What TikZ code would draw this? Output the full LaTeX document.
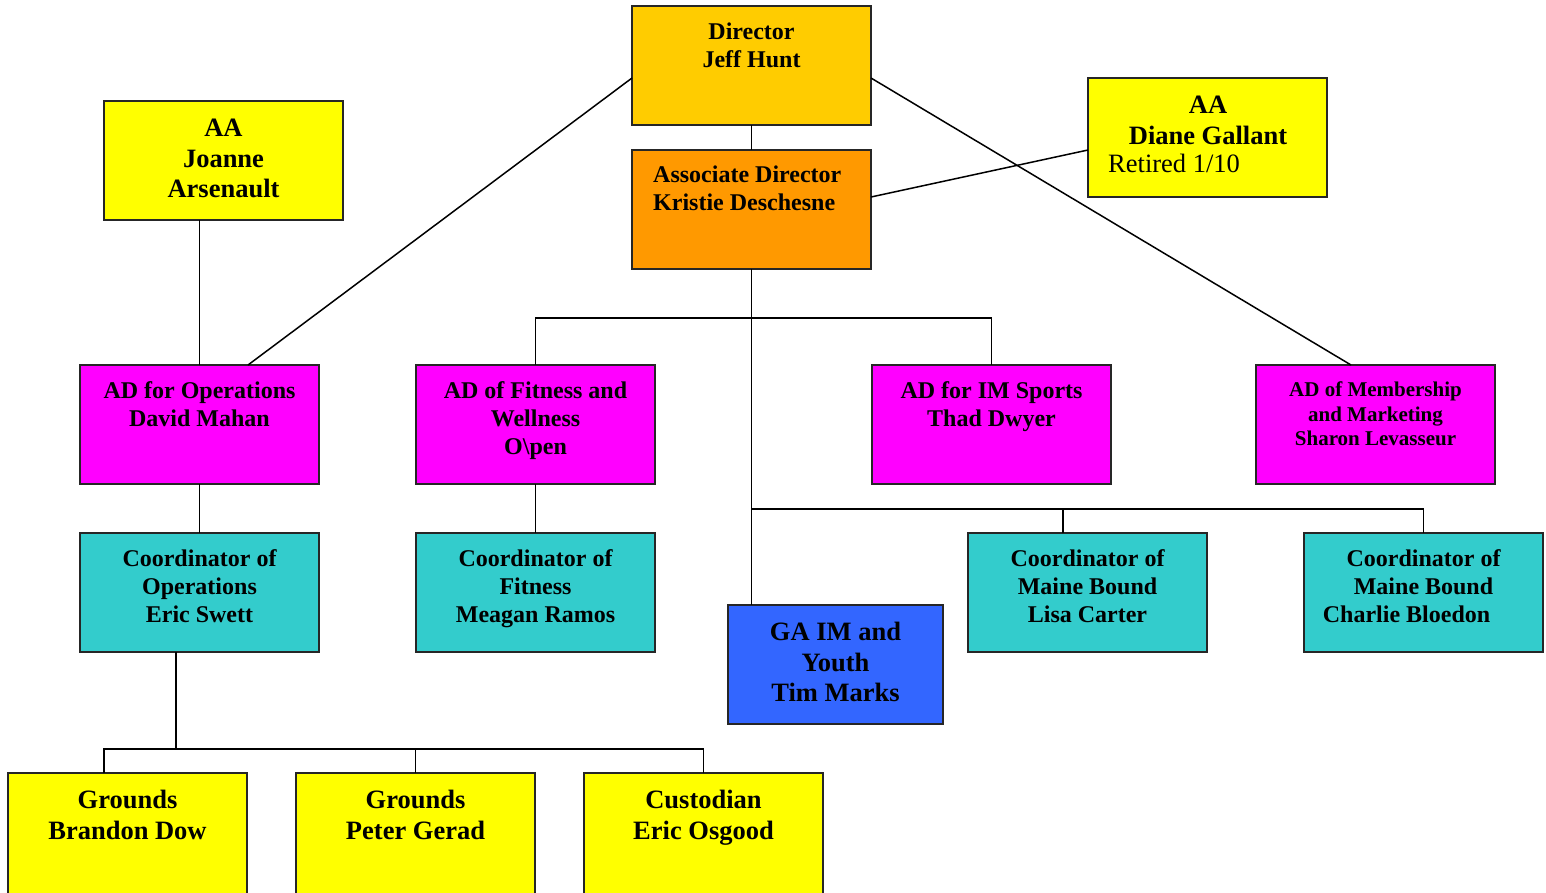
\documentclass[tikz,border=0pt]{standalone}
\usepackage{fontspec}
\setmainfont{Liberation Serif}
\usetikzlibrary{calc}
\definecolor{cdir}{HTML}{FFCC00}
\definecolor{cassoc}{HTML}{FF9900}
\definecolor{cyel}{HTML}{FFFF00}
\definecolor{cmag}{HTML}{FF00FF}
\definecolor{cteal}{HTML}{33CCCC}
\definecolor{cblue}{HTML}{3366FF}
\begin{document}
\begin{tikzpicture}[x=1pt,y=-1pt,
  bx/.style={draw=black!85, line width=1.5pt, inner sep=0pt, outer sep=0pt, anchor=north west, minimum width=239pt, minimum height=119pt},
  tn/.style={font=\bfseries\fontsize{24}{28}\selectfont, align=center, inner sep=0pt, anchor=north},
  tlg/.style={font=\bfseries\fontsize{26.5}{30.5}\selectfont, align=center, inner sep=0pt, anchor=north},
  tsm/.style={font=\bfseries\fontsize{21}{24.5}\selectfont, align=center, inner sep=0pt, anchor=north},
  conn/.style={draw=black, line width=1.5pt}]
\clip (0,0) rectangle (1546,892);
\fill[white] (0,0) rectangle (1546,892);

% boxes
\node[bx, fill=cdir] (dir) at (632,6) {};
\node[bx, fill=cassoc] (assoc) at (632,150) {};
\node[bx, fill=cyel] (joanne) at (104,101) {};
\node[bx, fill=cyel] (diane) at (1088,78) {};
\node[bx, fill=cmag] (opsAD) at (80,365) {};
\node[bx, fill=cmag] (fitAD) at (416,365) {};
\node[bx, fill=cmag] (imAD) at (872,365) {};
\node[bx, fill=cmag] (memAD) at (1256,365) {};
\node[bx, fill=cteal] (cops) at (80,533) {};
\node[bx, fill=cteal] (cfit) at (416,533) {};
\node[bx, fill=cblue, minimum width=215pt] (gaim) at (728,605) {};
\node[bx, fill=cteal] (lisa) at (968,533) {};
\node[bx, fill=cteal] (charlie) at (1304,533) {};
\node[bx, fill=cyel, minimum height=140pt] (brandon) at (8,773) {};
\node[bx, fill=cyel, minimum height=140pt] (peter) at (296,773) {};
\node[bx, fill=cyel, minimum height=140pt] (eric) at (584,773) {};

% texts
\node[tn] (dirT) at (751.5,19.4) {\strut Director\\Jeff Hunt};
\node[tn, align=left, anchor=north west] (assocT) at (653,162.4) {\strut Associate Director\\Kristie Deschesne};
\node[tlg] (joanT) at (223.5,115.3) {\strut AA\\Joanne\\Arsenault};
\node[tlg, inner sep=0pt] (dianeT) at (1208,92) {\strut AA\\Diane Gallant};
\node[font=\fontsize{26.5}{30.5}\selectfont, inner sep=0pt, anchor=base west] (dianeR) at (1108,172.7) {Retired 1/10};
\node[tn] (opsT) at (199.5,378.7) {\strut AD for Operations\\David Mahan};
\node[tn] (fitT) at (535.5,378.7) {\strut AD of Fitness and\\Wellness\\O\textbackslash pen};
\node[tn] (imT) at (991.5,378.7) {\strut AD for IM Sports\\Thad Dwyer};
\node[tsm] (memT) at (1375.5,379.5) {\strut AD of Membership\\and Marketing\\Sharon Levasseur};
\node[tn] (copsT) at (199.5,546.4) {\strut Coordinator of\\Operations\\Eric Swett};
\node[tn] (cfitT) at (535.5,546.4) {\strut Coordinator of\\Fitness\\Meagan Ramos};
\node[tn] (lisaT) at (1087.5,546.4) {\strut Coordinator of\\Maine Bound\\Lisa Carter};
\node[tn] (charlieT) at (1423.5,546.4) {\strut Coordinator of\\Maine Bound\\Charlie Bloedon\kern34pt};
\node[tlg] (gaT) at (835.5,619.3) {\strut GA IM and\\Youth\\Tim Marks};
\node[tlg, font=\bfseries\fontsize{26.5}{31}\selectfont] (brandonT) at (127.5,786.6) {\strut Grounds\\Brandon Dow};
\node[tlg, font=\bfseries\fontsize{26.5}{31}\selectfont] (peterT) at (415.5,786.6) {\strut Grounds\\Peter Gerad};
\node[tlg, font=\bfseries\fontsize{26.5}{31}\selectfont] (ericT) at (703.5,786.6) {\strut Custodian\\Eric Osgood};

% connectors
\draw[conn] (dir.south) -- (assoc.north);
\draw[conn] ($(dir.north west)+(0,72)$) -- ($(opsAD.north west)+(168,0)$);
\draw[conn] ($(dir.north east)+(0,72)$) -- ($(memAD.north west)+(95,0)$);
\draw[conn] ($(assoc.north east)+(0,47)$) -- ($(diane.north west)+(0,72)$);
\draw[conn] (opsAD.north) -- (opsAD.north |- joanne.south);
\draw[conn] (assoc.south) -- (assoc.south |- gaim.north);
\draw[conn] (fitAD.north) -- ++(0,-47) -| (imAD.north);
\draw[conn] ($(assoc.south)+(0,240)$) -| (charlie.north);
\draw[conn] ($(lisa.north west)+(95,0)$) -- ++(0,-24);
\draw[conn] (opsAD.south) -- (cops.north);
\draw[conn] (fitAD.south) -- (cfit.north);
\draw[conn] ($(cops.south west)+(96,0)$) -- ++(0,96) coordinate (jct);
\draw[conn] ($(brandon.north west)+(96,0)$) -- ++(0,-24) -| (eric.north);
\draw[conn] (peter.north) -- ++(0,-24);
\end{tikzpicture}
\end{document}
